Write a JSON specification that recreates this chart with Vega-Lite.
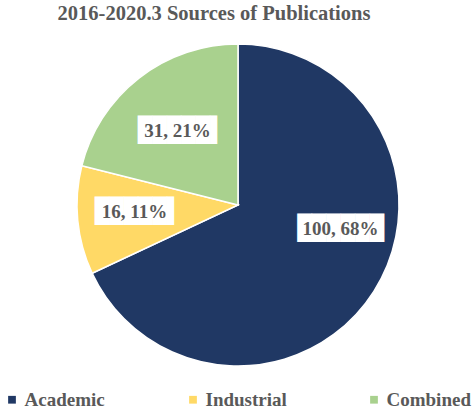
{
  "$schema": "https://vega.github.io/schema/vega-lite/v6.json",
  "width": 322,
  "height": 322,
  "autosize": "none",
  "padding": {"left": 77, "top": 44, "right": 73, "bottom": 46},
  "background": "white",
  "title": {
    "text": "2016-2020.3 Sources of Publications",
    "font": "Liberation Serif",
    "fontSize": 20.5,
    "fontWeight": "bold",
    "color": "#595959",
    "anchor": "middle",
    "dx": -24,
    "offset": 17
  },
  "data": {
    "values": [
      {"source": "Academic", "count": 100, "pct": "68%", "idx": 1},
      {"source": "Industrial", "count": 16, "pct": "11%", "idx": 2},
      {"source": "Combined", "count": 31, "pct": "21%", "idx": 3}
    ]
  },
  "transform": [{"calculate": "datum.count + ', ' + datum.pct", "as": "label"}],
  "encoding": {
    "theta": {"field": "count", "type": "quantitative", "stack": true},
    "order": {"field": "idx", "type": "quantitative"}
  },
  "layer": [
    {
      "mark": {"type": "arc", "stroke": "white", "strokeWidth": 1.5},
      "encoding": {
        "color": {
          "field": "source",
          "type": "nominal",
          "scale": {"domain": ["Academic", "Industrial", "Combined"], "range": ["#203864", "#FFD966", "#A9D18E"]},
          "legend": {
            "orient": "none",
            "legendX": -74.5,
            "legendY": 346,
            "direction": "horizontal",
            "title": null,
            "columns": 3,
            "gridAlign": "all",
            "columnPadding": 74,
            "symbolType": "square",
            "symbolSize": 60,
            "symbolStrokeWidth": 0,
            "labelOffset": 3,
            "labelFont": "Liberation Serif",
            "labelFontSize": 19,
            "labelFontWeight": "bold",
            "labelColor": "#595959"
          }
        }
      }
    },
    {
      "mark": {"type": "text", "font": "DejaVu Sans Mono", "fontSize": 24, "color": "white", "align": "center", "baseline": "middle", "radius": 105.3, "thetaOffset": -0.335},
      "encoding": {
        "text": {"value": "██████"},
        "opacity": {"condition": {"test": "datum.source === 'Academic'", "value": 1}, "value": 0}
      }
    },
    {
      "mark": {"type": "text", "font": "Liberation Serif", "fontSize": 19, "fontWeight": "bold", "color": "#595959", "align": "center", "baseline": "middle", "radius": 105.3, "thetaOffset": -0.335},
      "encoding": {
        "text": {"field": "label"},
        "opacity": {"condition": {"test": "datum.source === 'Academic'", "value": 1}, "value": 0}
      }
    },
    {
      "mark": {"type": "text", "font": "DejaVu Sans Mono", "fontSize": 24, "color": "white", "align": "center", "baseline": "middle", "radius": 103.7, "thetaOffset": 0.031, "dx": 3.6},
      "encoding": {
        "text": {"value": "█████▌"},
        "opacity": {"condition": {"test": "datum.source === 'Industrial'", "value": 1}, "value": 0}
      }
    },
    {
      "mark": {"type": "text", "font": "Liberation Serif", "fontSize": 19, "fontWeight": "bold", "color": "#595959", "align": "center", "baseline": "middle", "radius": 103.7, "thetaOffset": 0.031},
      "encoding": {
        "text": {"field": "label"},
        "opacity": {"condition": {"test": "datum.source === 'Industrial'", "value": 1}, "value": 0}
      }
    },
    {
      "mark": {"type": "text", "font": "DejaVu Sans Mono", "fontSize": 24, "color": "white", "align": "center", "baseline": "middle", "radius": 95.2, "thetaOffset": -0.026, "dx": 3.6},
      "encoding": {
        "text": {"value": "█████▌"},
        "opacity": {"condition": {"test": "datum.source === 'Combined'", "value": 1}, "value": 0}
      }
    },
    {
      "mark": {"type": "text", "font": "Liberation Serif", "fontSize": 19, "fontWeight": "bold", "color": "#595959", "align": "center", "baseline": "middle", "radius": 95.2, "thetaOffset": -0.026},
      "encoding": {
        "text": {"field": "label"},
        "opacity": {"condition": {"test": "datum.source === 'Combined'", "value": 1}, "value": 0}
      }
    }
  ]
}
